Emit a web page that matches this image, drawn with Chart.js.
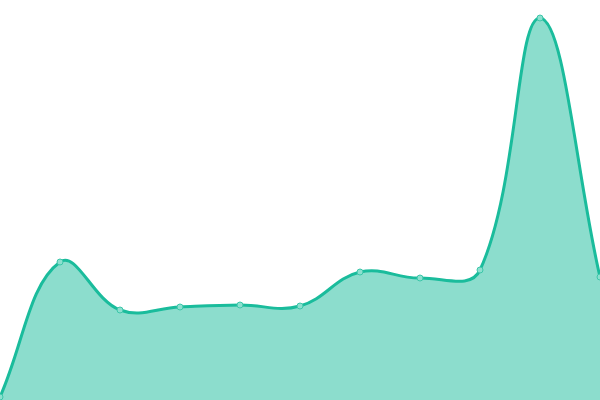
<!DOCTYPE html>
<html>
<head>
<meta charset="utf-8">
<script src="https://cdn.jsdelivr.net/npm/chart.js@4"></script>
<style>html,body{margin:0;padding:0;background:#fff;}canvas{display:block;}</style>
</head>
<body>
<canvas id="c" width="600" height="400"></canvas>
<script>
const labels = ['1','2','3','4','5','6','7','8','9','10','11'];
const values = [3, 138, 90, 93, 95, 94, 128, 122, 130, 382, 123];

new Chart(document.getElementById('c'), {
  type: 'line',
  data: {
    labels: labels,
    datasets: [{
      data: values,
      borderColor: '#1abc9c',
      backgroundColor: 'rgba(26,188,156,0.5)',
      borderWidth: 3,
      fill: 'start',
      tension: 0.4,
      pointRadius: 3,
      pointBorderWidth: 1,
      pointBackgroundColor: 'rgba(140,224,207,1)',
      pointBorderColor: '#3cc6a9',
      clip: false
    }]
  },
  options: {
    responsive: false,
    animation: false,
    layout: { padding: 0, autoPadding: false },
    plugins: { legend: { display: false }, tooltip: { enabled: false } },
    scales: {
      x: { display: false },
      y: { display: false, min: 0, max: 400 }
    }
  }
});
</script>
</body>
</html>
